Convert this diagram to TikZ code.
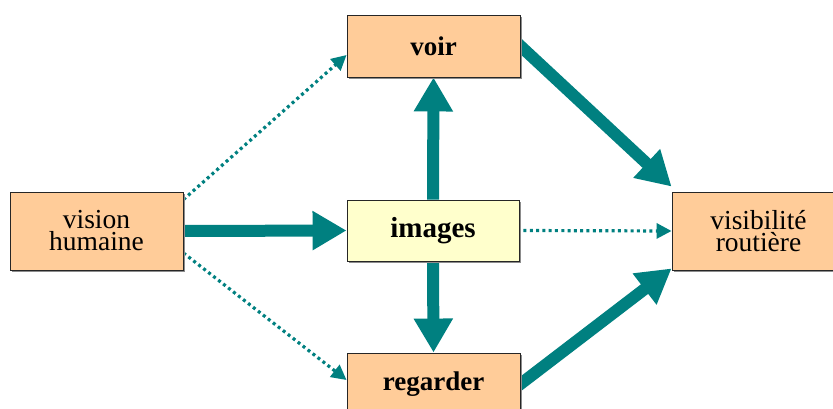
\documentclass[tikz,border=0pt]{standalone}
\usepackage{fontspec}
\setmainfont{Liberation Serif}
\usetikzlibrary{arrows.meta,shadows,backgrounds}
\definecolor{arrowteal}{HTML}{008080}
\definecolor{boxorange}{HTML}{FFCC99}
\definecolor{boxyellow}{HTML}{FFFFCC}
\tikzset{
  box/.style={draw=black!85, line width=0.9pt, fill=boxorange, rectangle,
    inner sep=0pt, minimum width=173pt, minimum height=62pt, align=center,
    drop shadow={shadow xshift=1.6pt, shadow yshift=-1.6pt, fill=black!45, opacity=1},
    font=\fontsize{27.5}{22}\selectfont},
  boldbox/.style={box, font=\fontsize{27}{20}\selectfont\bfseries},
  bigarrow/.style={line width=12pt, draw=arrowteal,
    -{Triangle[width=37pt,length=34pt]}},
  dotarrow/.style={line width=3.2pt, draw=arrowteal, dash pattern=on 3pt off 3.3pt,
    -{Triangle[width=15pt,length=15pt]}},
}
\begin{document}
\begin{tikzpicture}[x=1pt,y=-1pt]
\useasboundingbox (0,0) rectangle (833,409);

% boxes
\node[box, minimum height=78pt] (vision) at (96.5,231) {vision\\humaine};
\node[boldbox] (voir) at (433.5,46) {voir};
\node[boldbox, fill=boxyellow, minimum width=172pt, minimum height=61pt,
  font=\fontsize{29}{20}\selectfont\bfseries] (images) at (433,230.5) {images};
\node[boldbox] (regarder) at (433.5,384) {regarder};
\node[box, minimum height=78pt] (visib) at (758.5,231) {visibilit\'e\\routi\`ere};

% connectors, kept behind the boxes
\begin{scope}[on background layer]
  \draw[bigarrow] (vision.east) -- (images.west);
  \draw[bigarrow] (images.north) -- (voir.south);
  \draw[bigarrow] (images.south) -- (regarder.north);
  \draw[bigarrow, shorten <=-10pt] (voir.east) -- ([yshift=5pt]visib.north west);
  \draw[bigarrow, shorten <=-10pt] (regarder.east) -- ([yshift=2pt]visib.south west);

  \draw[dotarrow] ([yshift=-8pt]vision.north east) -- ([yshift=-9pt]voir.west);
  \draw[dotarrow] ([yshift=-22pt]vision.east) -- ([yshift=4pt]regarder.west);
  \draw[dotarrow, shorten <=4pt] (images.east) -- (visib.west);
\end{scope}
\end{tikzpicture}
\end{document}
